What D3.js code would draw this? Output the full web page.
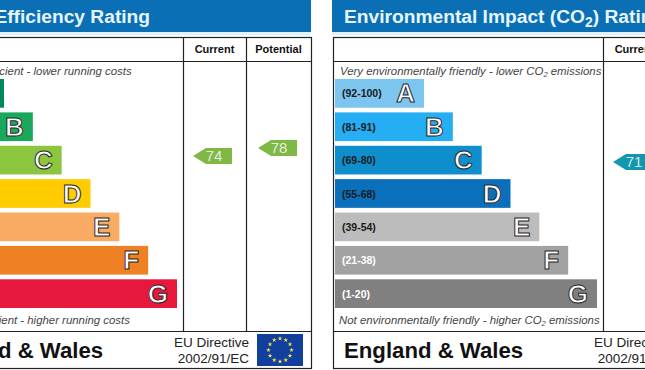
<!DOCTYPE html>
<html lang="en">
<head>
<meta charset="UTF-8">
<title>EPC ratings</title>
<script src="https://d3js.org/d3.v7.min.js"></script>
<style>
    html, body { margin: 0; padding: 0; background: #fff; overflow: hidden; }
    text { font-family: "Liberation Sans", Arial, sans-serif; }
    .head { font-size: 19.2px; font-weight: bold; fill: #e6f6fc; }
    .colhead { font-size: 11px; font-weight: bold; fill: #111; text-anchor: middle; }
    .note { font-size: 11.4px; font-style: italic; fill: #444; }
    .band { font-size: 10.5px; font-weight: bold; }
    .letter { font-size: 26px; font-weight: bold; fill: #fff; stroke: #2a2a2a; stroke-width: 1px; text-anchor: end; }
    .score { font-size: 15px; fill: #fff; fill-opacity: .8; text-anchor: middle; }
    .country { font-size: 22.2px; font-weight: bold; fill: #111; }
    .eu { font-size: 13.5px; fill: #222; text-anchor: end; }
</style>
</head>
<body>
<svg id="chart" width="645" height="370"></svg>
<script>
// rating bands, top to bottom
const letters = ['A', 'B', 'C', 'D', 'E', 'F', 'G'];
const bandLabels = ['(92-100)', '(81-91)', '(69-80)', '(55-68)', '(39-54)', '(21-38)', '(1-20)'];
const ranks = [1, 2, 3, 4, 5, 6, 7];
const lightLabels = ['F', 'G'];

const energyColors = ['#008a5c', '#1aa85c', '#8cc63f', '#ffcc00', '#f9ab63', '#ef8023', '#e8183c'];
const co2Colors = ['#7cc5ee', '#25aef3', '#0f8ece', '#0a70bb', '#bcbcbc', '#a2a2a2', '#808080'];

const energyScores = [{ col: 'Current', value: 74 }, { col: 'Potential', value: 78 }];
const co2Scores = [{ col: 'Current', value: 71 }];

const svg = d3.select('#chart');

const y = d3.scaleBand().domain(letters).range([79, 308]).paddingInner(0.14);
const barWidth = d3.scaleLinear().domain([1, 7]).range([89, 262]);
// score to arrow centre, shared by both panels
const scoreY = d3.scaleLinear().domain([1, 100]).range([302, 104]);

function drawPanel(x0, opts) {
    const g = svg.append('g').attr('transform', `translate(${x0},0)`);
    const boxW = 398, col1 = 270, col2 = 333;

    g.append('rect').attr('x', -1).attr('y', 0).attr('width', boxW + 1).attr('height', 32).attr('fill', '#0b6fb6');
    g.append('rect').attr('x', -1).attr('y', 32).attr('width', boxW + 1).attr('height', 3).attr('fill', '#dff1fa');

    const title = g.append('text').attr('class', 'head').attr('x', 11).attr('y', 23);
    opts.title.forEach(t => {
        const s = title.append('tspan').text(t.text);
        if (t.sub) s.attr('dy', 4).style('font-size', '14px');
        else if (t.after) s.attr('dy', -4);
    });

    // frame
    g.append('rect').attr('x', 0.5).attr('y', 37.5).attr('width', boxW).attr('height', 331)
        .attr('fill', 'none').attr('stroke', '#222').attr('stroke-width', 1.2);
    g.selectAll('.rule').data([[0, boxW, 61, 61], [0, boxW, 331, 331], [col1, col1, 37, 331], [col2, col2, 37, 331]])
        .enter().append('line')
        .attr('x1', d => d[0] + 0.5).attr('x2', d => d[1] + 0.5)
        .attr('y1', d => d[2] + 0.5).attr('y2', d => d[3] + 0.5)
        .attr('stroke', '#222').attr('stroke-width', 1.2);

    g.append('text').attr('class', 'colhead').attr('x', (col1 + col2) / 2).attr('y', 53).text('Current');
    g.append('text').attr('class', 'colhead').attr('x', (col2 + boxW) / 2).attr('y', 53).text('Potential');

    noteText(g, 7, 74.5, opts.top);
    noteText(g, 6, 324, opts.bottom);

    const row = g.selectAll('.row').data(letters).enter().append('g').attr('class', 'row');
    row.append('rect')
        .attr('x', 2)
        .attr('y', d => y(d))
        .attr('height', y.bandwidth())
        .attr('width', (d, i) => barWidth(ranks[i]))
        .attr('fill', (d, i) => opts.colors[i]);
    row.append('text').attr('class', 'band')
        .attr('x', 9)
        .attr('y', d => y(d) + y.bandwidth() / 2 + 4)
        .attr('fill', d => lightLabels.includes(d) ? '#fff' : '#1a1a1a')
        .text((d, i) => bandLabels[i]);
    row.append('text').attr('class', 'letter')
        .attr('x', (d, i) => 2 + barWidth(ranks[i]) - 9)
        .attr('y', d => y(d) + y.bandwidth() / 2 + 9)
        .text(d => d);

    // score arrows
    const colX = { Current: col1 + 10, Potential: col2 + 12 };
    const arrow = g.selectAll('.arrow').data(opts.scores).enter().append('g').attr('class', 'arrow')
        .attr('transform', d => `translate(${colX[d.col]},${scoreY(d.value)})`);
    arrow.append('path')
        .attr('d', 'M0,0L13,-8H39V8H13Z')
        .attr('fill', opts.arrowColor);
    arrow.append('text').attr('class', 'score').attr('x', 21).attr('y', 5).text(d => d.value);

    // footer
    g.append('text').attr('class', 'country').attr('x', 11).attr('y', 358).text('England & Wales');
    g.append('text').attr('class', 'eu').attr('x', 336).attr('y', 347).text('EU Directive');
    g.append('text').attr('class', 'eu').attr('x', 336).attr('y', 363).text('2002/91/EC');
    drawFlag(g);
}

function noteText(g, x, yPos, parts) {
    const t = g.append('text').attr('class', 'note').attr('x', x).attr('y', yPos);
    parts.forEach((p, i) => {
        const s = t.append('tspan').text(p.text);
        if (p.sub) s.attr('dy', 2).style('font-size', '7.5px');
        else if (i > 0) s.attr('dy', -2);
    });
}

function drawFlag(g) {
    const f = g.append('g').attr('transform', 'translate(344,334)');
    f.append('rect').attr('width', 46).attr('height', 32).attr('fill', '#113f9e');
    const angle = d3.scaleLinear().domain([0, 12]).range([0, 2 * Math.PI]);
    const star = d3.symbol().type(d3.symbolStar).size(7)();
    f.selectAll('path').data(d3.range(12)).enter().append('path')
        .attr('d', star)
        .attr('fill', '#f4e04a')
        .attr('transform', d => `translate(${23 + 11.5 * Math.sin(angle(d))},${16 - 11.5 * Math.cos(angle(d))})`);
}

drawPanel(-87, {
    title: [{ text: 'Energy Efficiency Rating' }],
    top: [{ text: 'Very energy efficient - lower running costs' }],
    bottom: [{ text: 'Not energy efficient - higher running costs' }],
    colors: energyColors,
    scores: energyScores,
    arrowColor: '#80b846'
});

drawPanel(333, {
    title: [{ text: 'Environmental Impact (CO' }, { text: '2', sub: true }, { text: ') Rating', after: true }],
    top: [{ text: 'Very environmentally friendly - lower CO' }, { text: '2', sub: true }, { text: ' emissions' }],
    bottom: [{ text: 'Not environmentally friendly - higher CO' }, { text: '2', sub: true }, { text: ' emissions' }],
    colors: co2Colors,
    scores: co2Scores,
    arrowColor: '#1497ad'
});
</script>
</body>
</html>
